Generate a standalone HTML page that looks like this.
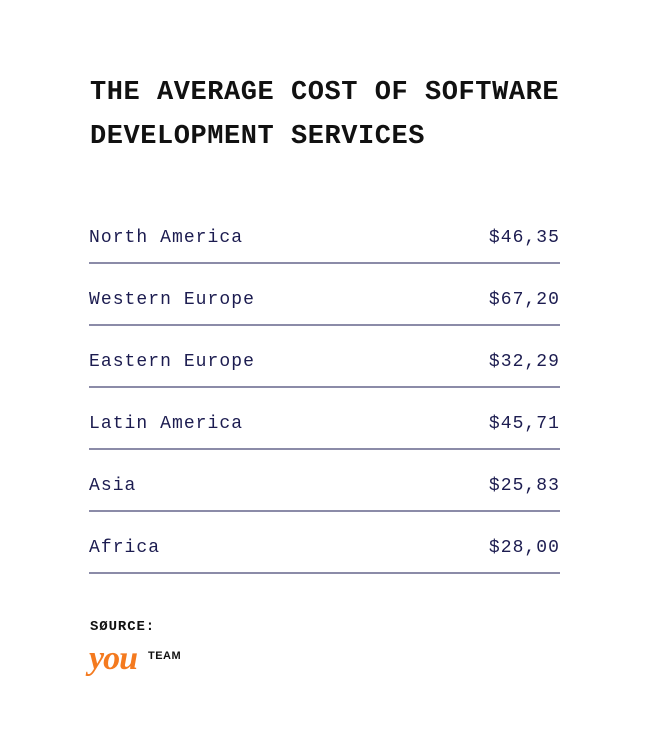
<!DOCTYPE html>
<html><head><meta charset="utf-8"><style>
body{margin:0;background:#fff;width:649px;height:753px;position:relative;overflow:hidden;font-family:"Liberation Mono",monospace;}
.t{position:absolute;left:90px;font-size:27px;font-weight:bold;letter-spacing:0.55px;color:#111;line-height:44px;top:71px;white-space:nowrap}
.row{position:absolute;left:89px;width:471px;height:61px;border-bottom:2px solid #8b8ba8;color:#1c1c50;font-size:18px;letter-spacing:1.05px}
.row span{position:absolute;top:27px}
.row .v{right:0}
.src{position:absolute;left:90px;top:619px;font-size:14px;font-weight:bold;letter-spacing:0.9px;color:#111}
.you{position:absolute;left:89px;top:640px;font-family:"Liberation Serif",serif;font-style:italic;font-weight:bold;font-size:34px;color:#f47a1f;letter-spacing:-1px}
.team{position:absolute;left:148px;top:650px;font-family:"Liberation Sans",sans-serif;font-weight:bold;font-size:11px;color:#111;letter-spacing:0.5px}
</style></head><body>
<div class="t">THE AVERAGE COST OF SOFTWARE<br>DEVELOPMENT SERVICES</div>
<div class="row" style="top:201px"><span>North America</span><span class="v">$46,35</span></div>
<div class="row" style="top:263px"><span>Western Europe</span><span class="v">$67,20</span></div>
<div class="row" style="top:325px"><span>Eastern Europe</span><span class="v">$32,29</span></div>
<div class="row" style="top:387px"><span>Latin America</span><span class="v">$45,71</span></div>
<div class="row" style="top:449px"><span>Asia</span><span class="v">$25,83</span></div>
<div class="row" style="top:511px"><span>Africa</span><span class="v">$28,00</span></div>
<div class="src">SØURCE:</div>
<div class="you">you</div>
<div class="team">TEAM</div>
</body></html>
